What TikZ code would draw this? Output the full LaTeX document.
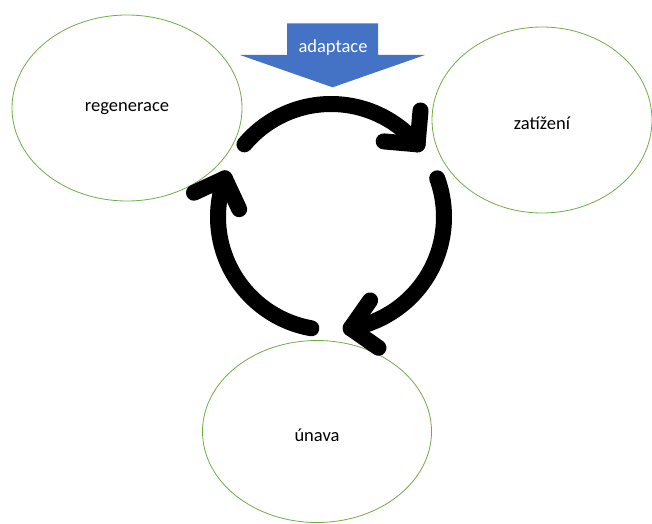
\documentclass[tikz,border=0pt]{standalone}
\usepackage{fontspec}
\setmainfont{Carlito}
\usetikzlibrary{calc}
\definecolor{ellgreen}{HTML}{70AD47}
\definecolor{arrblue}{HTML}{4472C4}
\begin{document}
\begin{tikzpicture}[x=1pt,y=1pt,
  bubble/.style={draw=ellgreen,line width=0.8pt,ellipse,inner sep=0pt},
  ringline/.style={line width=16pt,line cap=round,line join=round,black},
  lbl/.style={font=\fontsize{18.5}{22}\selectfont}]
\useasboundingbox (0,0) rectangle (652,523);
% ellipses
\draw[draw=ellgreen,line width=0.8pt] (127,415) ellipse[x radius=115,y radius=93];
\draw[draw=ellgreen,line width=0.8pt] (542,403) ellipse[x radius=110,y radius=93];
\draw[draw=ellgreen,line width=0.8pt] (317,91.5) ellipse[x radius=114.5,y radius=91];
\node[lbl] (reg) at (127,414) {regenerace};
\node[lbl] (zat) at (542,400) {zatížení};
\node[lbl] (una) at (317,88) {únava};
% blue arrow
\fill[arrblue] (287,499.7) -- (378,499.7) -- (378,468) -- (425,468) -- (332.6,435.7) -- (240,468) -- (287,468) -- cycle;
\node[lbl,text=white] (adapt) at (333,475) {adaptace};
% ring
\coordinate (c) at (331,306);
\foreach \s/\e in {140/40, 20/-80, -100/-200}{
  \draw[ringline] ($(c)+(\s:113)$) arc[start angle=\s, end angle=\e, radius=113];
  \draw[ringline] ($(c)+(\e:113)+(\e+45:34)$) -- ($(c)+(\e:113)$) -- ($(c)+(\e:113)+(\e+135:34)$);
}
\end{tikzpicture}
\end{document}
